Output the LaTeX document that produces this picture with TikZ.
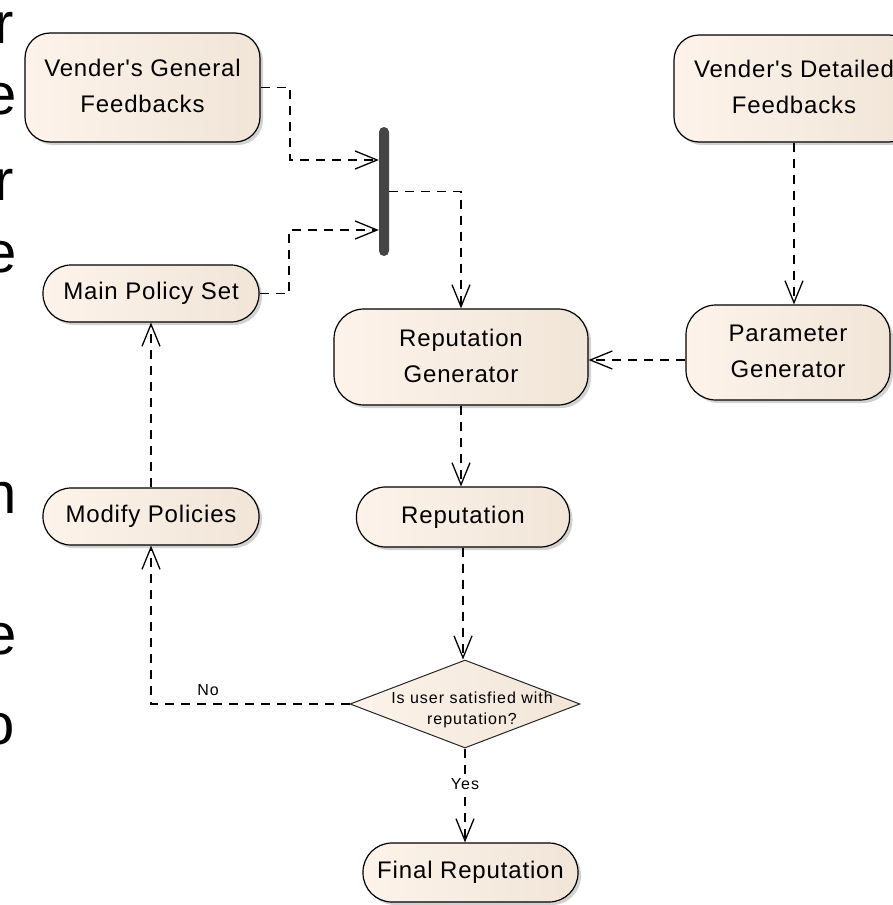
\documentclass[tikz,border=0pt]{standalone}
\usepackage{fontspec}
\setmainfont{Liberation Sans}
\newfontfamily\nodefont{Liberation Sans}[LetterSpace=3.5]
\newfontfamily\guardfont{Liberation Sans}[LetterSpace=6]
\usetikzlibrary{arrows.meta,shapes.geometric,shadows}
\definecolor{creamL}{HTML}{FDF3EA}
\definecolor{creamR}{HTML}{F1E5D8}
\definecolor{barc}{HTML}{454545}
\newcommand\bigtxt{\nodefont\fontsize{24}{36}\selectfont}
\newcommand\smalltxt{\guardfont\fontsize{16}{21}\selectfont}
\newcommand\hugetxt{\fontsize{58}{60}\selectfont}
\newcommand\twolines[2]{\raisebox{7pt}{\begin{tabular}{@{}c@{}}#1\\#2\end{tabular}}}
\tikzset{
  act/.style={draw=black, line width=1.2pt, left color=creamL, right color=creamR,
    drop shadow={shadow xshift=3pt, shadow yshift=-3pt, fill=black!35, opacity=0.5},
    align=center, inner sep=0pt, font=\bigtxt},
  decision/.style={shape=diamond, draw=black!85, line width=1pt, left color=creamL, right color=creamR,
    inner sep=0pt, minimum width=230pt, minimum height=88pt},
  joinbar/.style={fill=barc, draw=none, rounded corners=5pt, minimum width=10pt, minimum height=129pt, inner sep=0pt},
  flow/.style={draw=black, line width=1.5pt, dash pattern=on 9pt off 7pt,
    -{Straight Barb[length=22pt, width=18pt, line width=1.3pt]}},
  guard/.style={font=\smalltxt, inner sep=1pt},
  edgeletter/.style={anchor=base east, inner sep=0pt, font=\hugetxt}
}
\begin{document}
\begin{tikzpicture}[x=1pt,y=-1pt]
\useasboundingbox (0,0) rectangle (892,905);

% letters of a neighbouring text, cut by the left edge as in the reference
\node[edgeletter] (la) at (14,43) {r};
\node[edgeletter] (lb) at (17,114) {e};
\node[edgeletter] (lc) at (14,200) {r};
\node[edgeletter] (ld) at (17,272) {e};
\node[edgeletter] (le) at (17,513) {n};
\node[edgeletter] (lf) at (17,654) {e};
\node[edgeletter] (lg) at (15,744) {o};

% activity nodes
\node[act, minimum width=235pt, minimum height=109pt, rounded corners=25pt] (vg) at (142.5,87.5) {\twolines{Vender's General}{Feedbacks}};
\node[act, minimum width=216pt, minimum height=57pt, rounded corners=28pt] (mps) at (151,293.5) {Main Policy Set};
\node[act, minimum width=216pt, minimum height=57pt, rounded corners=28pt] (modp) at (151,516.5) {Modify Policies};
\node[joinbar] (bar) at (384,191.5) {};
\node[act, minimum width=254pt, minimum height=96pt, rounded corners=30pt] (rg) at (461,357) {\raisebox{3pt}{\begin{tabular}{@{}c@{}}Reputation\\Generator\end{tabular}}};
\node[act, minimum width=213pt, minimum height=60pt, rounded corners=29pt] (rep) at (463,517) {Reputation};
\node[act, minimum width=240pt, minimum height=107pt, rounded corners=25pt] (vd) at (794,88.5) {\twolines{Vender's Detailed}{Feedbacks}};
\node[act, minimum width=204pt, minimum height=95pt, rounded corners=30pt] (pg) at (788,352.5) {\raisebox{2pt}{\begin{tabular}{@{}c@{}}Parameter\\Generator\end{tabular}}};
\node[decision] (dec) at (465,704) {};
\node[font=\smalltxt, align=center, inner sep=0pt] (dect) at (472,710) {Is user satisfied with\\reputation?};
\node[act, minimum width=215pt, minimum height=59pt, rounded corners=29pt] (fr) at (470.5,872.5) {Final Reputation};

% connectors
\coordinate (k1) at (290,160);
\coordinate (k2) at (289,230);
\coordinate (k4) at (0,360);
\draw[flow] (vg.east) -| (k1) -- (bar.west |- k1);
\draw[flow] (mps.east) -| (k2) -- (bar.west |- k2);
\draw[flow] (bar.east) -| (rg.north);
\draw[flow] (vd.south) -- (vd.south |- pg.north);
\draw[flow] (pg.west |- k4) -- (rg.east |- k4);
\draw[flow] (rg.south) -- (rg.south |- rep.north);
\draw[flow] (rep.south) -- (rep.south |- dec.north);
\draw[flow] (dec.west) -| (modp.south);
\node[guard] (nolab) at (208,690) {No};
\draw[flow] (dec.south) -- node[guard, pos=0.38, fill=white] (yeslab) {Yes} (dec.south |- fr.north);
\draw[flow] (modp.north) -- (mps.south);
\end{tikzpicture}
\end{document}
